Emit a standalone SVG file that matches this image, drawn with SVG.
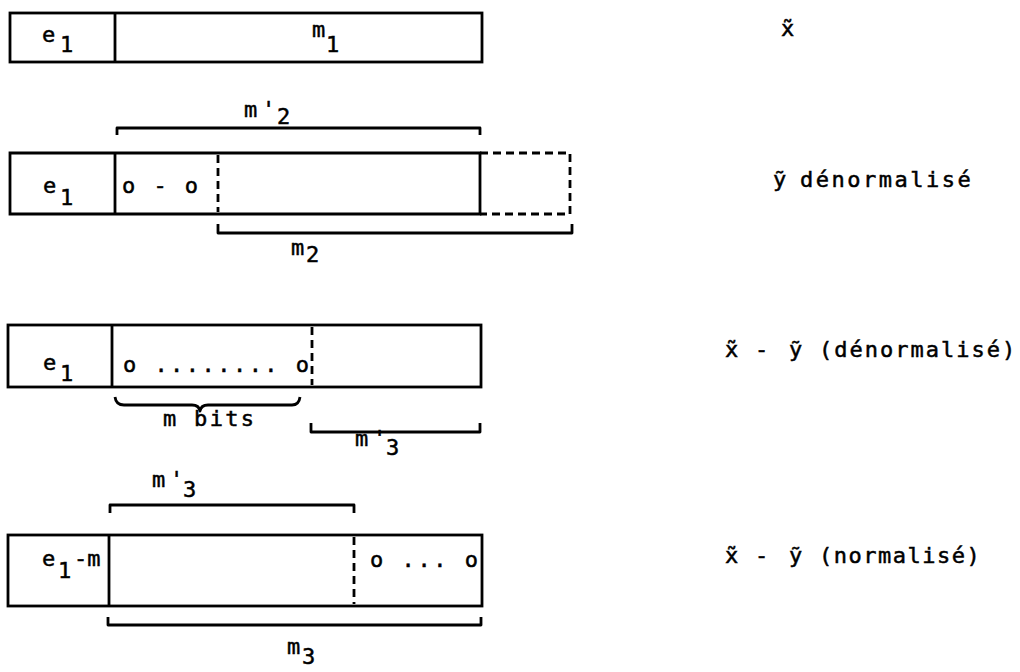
<svg xmlns="http://www.w3.org/2000/svg" width="1020" height="672" viewBox="0 0 1020 672">
<style>
.box{fill:none;stroke:#000;stroke-width:2.8}
.dash{fill:none;stroke:#000;stroke-width:2.8;stroke-dasharray:8 5}
.br{fill:none;stroke:#000;stroke-width:2.8;stroke-linejoin:round}
text{font-family:"DejaVu Sans Mono","Liberation Mono",monospace;font-size:22px;fill:#000;stroke:#000;stroke-width:0.5}
</style>
<rect width="1020" height="672" fill="#fff"/>
<g id="row1">
<rect class="box" x="10" y="13" width="472" height="49"/>
<line class="box" x1="115" y1="13" x2="115" y2="62"/>
<text x="42" y="42">e<tspan x="60" y="52">1</tspan></text>
<text x="312" y="37">m<tspan x="326" y="52">1</tspan></text>
</g>
<g id="label1">
<text x="781" y="36">x̃</text>
</g>
<g id="row2">
<text x="244" y="117">m<tspan x="262">'</tspan><tspan x="277" y="124">2</tspan></text>
<path class="br" d="M117,135 V128 H480 V135"/>
<path class="box" d="M480,153 H10 V214 H480 Z"/>
<line class="box" x1="115" y1="153" x2="115" y2="214"/>
<line class="dash" x1="218" y1="155" x2="218" y2="212"/>
<path class="dash" d="M480,153 H570 V214 H480"/>
<text x="43" y="193">e<tspan x="60" y="205">1</tspan></text>
<text x="122" y="193" textLength="76" lengthAdjust="spacing">o - o</text>
<path class="br" d="M218,224 V233 H572 V224"/>
<text x="291" y="255">m<tspan x="306" y="262">2</tspan></text>
</g>
<g id="label2">
<text x="773" y="187">ỹ<tspan x="800" style="letter-spacing:2.5px">dénormalisé</tspan></text>
</g>
<g id="row3">
<rect class="box" x="8" y="325" width="473" height="62"/>
<line class="box" x1="112" y1="325" x2="112" y2="387"/>
<line class="dash" x1="312" y1="327" x2="312" y2="385"/>
<text x="43" y="370">e<tspan x="60" y="381">1</tspan></text>
<text x="123" y="372" textLength="186" lengthAdjust="spacing">o ........ o</text>
<path class="br" d="M115,397 Q116,405 124,405 H192 Q199,405 200,411 Q201,405 208,405 H292 Q299,405 300,397"/>
<text x="163" y="426" textLength="91" lengthAdjust="spacing">m bits</text>
<path class="br" d="M311,423 V432 H480 V423"/>
<text x="355" y="446">m<tspan x="373">'</tspan><tspan x="386" y="455">3</tspan></text>
</g>
<g id="label3">
<text x="725" y="357">x̃<tspan x="755">-</tspan><tspan x="789">ỹ</tspan><tspan x="819" style="letter-spacing:2px">(dénormalisé)</tspan></text>
</g>
<g id="row4">
<text x="152" y="487">m<tspan x="170">'</tspan><tspan x="183" y="497">3</tspan></text>
<path class="br" d="M110,513 V505 H354 V513"/>
<rect class="box" x="8" y="535" width="474" height="71"/>
<line class="box" x1="109" y1="535" x2="109" y2="606"/>
<line class="dash" x1="354" y1="537" x2="354" y2="604"/>
<text x="42" y="566">e<tspan x="58" y="578">1</tspan><tspan x="74" y="566">-m</tspan></text>
<text x="370" y="567" textLength="108" lengthAdjust="spacing">o ... o</text>
<path class="br" d="M108,617 V625 H481 V617"/>
<text x="287" y="654">m<tspan x="302" y="664">3</tspan></text>
</g>
<g id="label4">
<text x="725" y="563">x̃<tspan x="755">-</tspan><tspan x="789">ỹ</tspan><tspan x="819" style="letter-spacing:1.5px">(normalisé)</tspan></text>
</g>
</svg>
